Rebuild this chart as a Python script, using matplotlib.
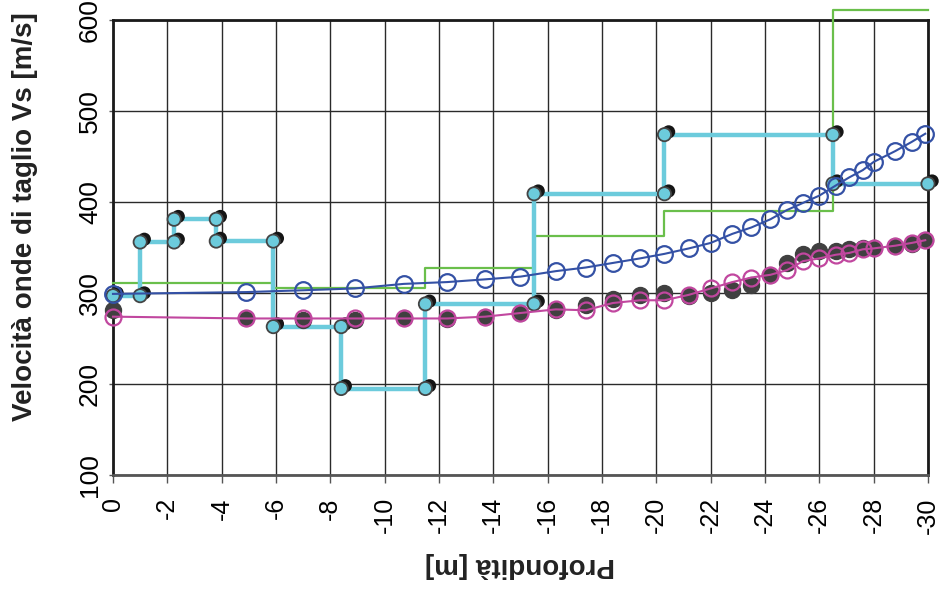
import numpy as np
import matplotlib
matplotlib.use('Agg')
from matplotlib import pyplot as plt
from matplotlib import patheffects

plt.rcParams['font.family'] = ['Liberation Sans', 'DejaVu Sans']
plt.rcParams['axes.unicode_minus'] = False

# profilo a gradini (inversione)
step_depth = [0, -1.0, -1.0, -2.25, -2.25, -3.8, -3.8, -5.9, -5.9, -8.4, -8.4, -11.5, -11.5,
              -15.5, -15.5, -20.3, -20.3, -26.5, -26.5, -30]
step_vs = [297, 297, 356, 356, 381, 381, 357, 357, 263, 263, 195, 195, 288, 288,
           409, 409, 474, 474, 420, 420]

# modello di riferimento
model_depth = [0, -5.9, -5.9, -11.5, -11.5, -15.5, -15.5, -20.3, -20.3, -26.5, -26.5, -30]
model_vs = [311, 311, 305, 305, 328, 328, 363, 363, 390, 390, 611, 611]

# curve continue
curve_depth = [0, -4.9, -7.0, -8.9, -10.7, -12.3, -13.7, -15.0, -16.3, -17.4, -18.4, -19.4,
               -20.3, -21.2, -22.0, -22.8, -23.5, -24.2, -24.8, -25.4, -26.0, -26.6, -27.1,
               -27.6, -28.0, -28.8, -29.4, -29.9]
vs_blue = [299, 301, 303, 305, 310, 312, 315, 318, 324, 328, 333, 338, 343, 349, 355, 365,
           372, 381, 391, 399, 407, 418, 427, 435, 444, 456, 466, 475]
vs_pink = [274, 272, 272, 272, 272, 272, 274, 278, 282, 281, 289, 292, 292, 298, 305, 312,
           317, 320, 325, 335, 338, 342, 344, 348, 349, 352, 355, 358]
vs_dark = [281, 272, 270, 270, 272, 271, 274, 278, 281, 287, 293, 298, 300, 297, 300, 303,
           309, 320, 333, 343, 346, 346, 348, 349, 349, 352, 354, 358]

xticks = list(range(0, -31, -2))
yticks = [100, 200, 300, 400, 500, 600]

fig = plt.figure(figsize=(9.4, 5.93), dpi=100)
ax = fig.add_axes([0.1202, 0.199, 0.8670, 0.7673])

ax.plot(model_depth, model_vs, color='#6abf4b', lw=1.6, clip_on=False, zorder=3)

ax.plot(step_depth, step_vs, color='#6ccbdc', lw=3.2, clip_on=False, zorder=4)
shadow = [patheffects.SimplePatchShadow(offset=(3, 2), shadow_rgbFace='#151515', alpha=1.0),
          patheffects.Normal()]
ax.plot(step_depth, step_vs, ls='none', marker='o', ms=9.5, mfc='#6ccbdc', mec='#444444',
        mew=1.3, clip_on=False, zorder=5, path_effects=shadow)

ax.plot(curve_depth, vs_dark, ls='none', marker='o', ms=11.5, mfc='#404040', mec='#404040',
        clip_on=False, zorder=6)
ax.plot(curve_depth, vs_pink, color='#c1479f', lw=1.5, marker='o', ms=11.5, mfc='none',
        mec='#c1479f', mew=1.6, clip_on=False, zorder=7)
ax.plot(curve_depth, vs_blue, color='#3451a5', lw=1.5, marker='o', ms=12, mfc='none',
        mec='#3451a5', mew=1.6, clip_on=False, zorder=8)

ax.set_xlim(0, -30)
ax.set_ylim(100, 600)
ax.set_xticks(xticks)
ax.set_xticklabels([str(t) for t in xticks], rotation=90, fontsize=18)
ax.set_yticks(yticks)
ax.set_yticklabels([str(t) for t in yticks], rotation=90, va='center', fontsize=19)
ax.tick_params(axis='x', length=6, width=1, color='#555555', pad=10)
ax.tick_params(axis='y', length=3, width=1, color='#555555', pad=5)

ax.grid(True, color='#2a2a2a', lw=1.0)
ax.set_axisbelow(True)
for side in ['left', 'top', 'right']:
    ax.spines[side].set_linewidth(2)
    ax.spines[side].set_color('#1a1a1a')
ax.spines['bottom'].set_linewidth(2)
ax.spines['bottom'].set_color('#555555')

ax.set_xlabel('Profondità [m]', fontsize=20, fontweight='bold', rotation=180, va='center',
              color='#222222')
ax.xaxis.set_label_coords(0.5, -0.198)
ax.set_ylabel('Velocità onde di taglio Vs [m/s]', fontsize=20, fontweight='bold', va='center',
              color='#222222')
ax.yaxis.set_label_coords(-0.108, 0.567)

fig.savefig('out.png', dpi=100)
